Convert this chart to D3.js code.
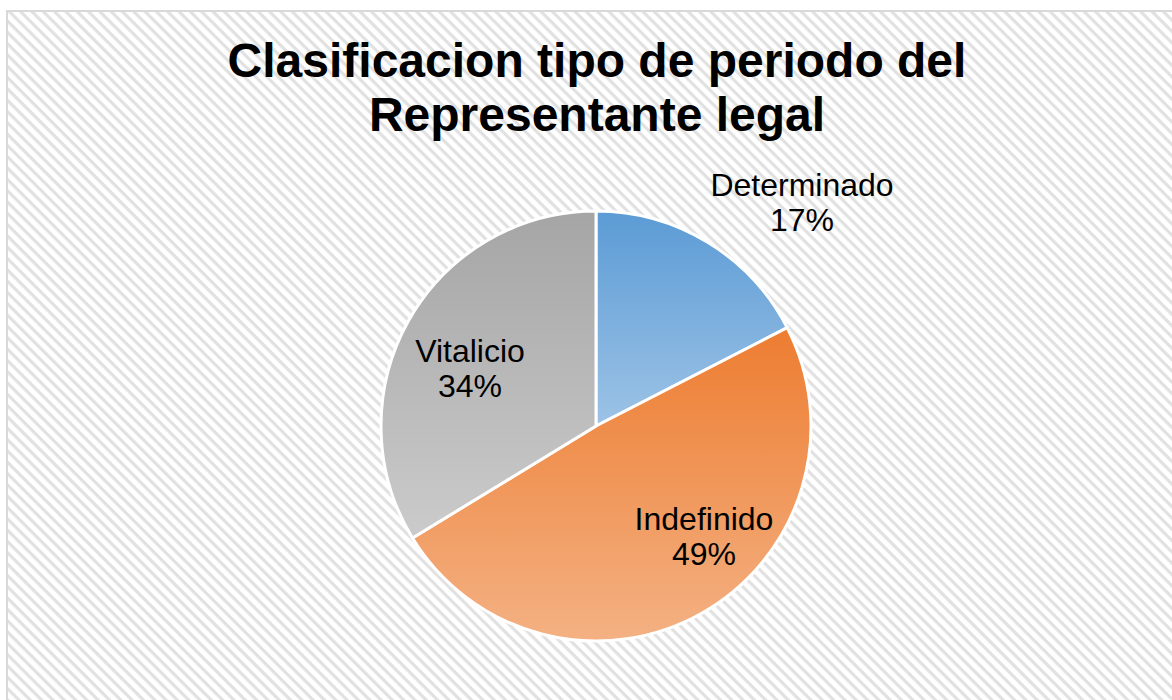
<!DOCTYPE html>
<html>
<head>
<meta charset="utf-8">
<script src="https://cdn.jsdelivr.net/npm/d3@7"></script>
<style>
  html, body { margin: 0; padding: 0; background: #fff; }
  svg { display: block; }
</style>
</head>
<body>
<div id="chart"></div>
<script>
// data
const categories = ['Determinado', 'Indefinido', 'Vitalicio'];
const values = [15, 42, 29];
const percentLabels = ['17%', '49%', '34%'];
const titleLines = ['Clasificacion tipo de periodo del', 'Representante legal'];
const topColors = ['#5b9bd5', '#ed7d31', '#a5a5a5'];
const bottomColors = ['#9dc3e6', '#f4b183', '#cbcbcb'];

const width = 1172;
const height = 700;
const cx = 596;
const cy = 426;
const radius = 215;

const svg = d3.select('#chart')
    .append('svg')
    .attr('width', width)
    .attr('height', height);

const defs = svg.append('defs');

// diagonal hatch background
const pattern = defs.append('pattern')
    .attr('id', 'hatch')
    .attr('patternUnits', 'userSpaceOnUse')
    .attr('width', 8)
    .attr('height', 8)
    .attr('patternTransform', 'rotate(45)');
pattern.append('rect')
    .attr('width', 8).attr('height', 8)
    .attr('fill', '#ffffff');
pattern.append('rect')
    .attr('width', 8).attr('height', 3.2)
    .attr('fill', '#e1e1e1');

// one vertical gradient per slice
categories.forEach((c, i) => {
    const g = defs.append('linearGradient')
        .attr('id', `grad${i}`)
        .attr('x1', 0).attr('y1', 0)
        .attr('x2', 0).attr('y2', 1);
    g.append('stop').attr('offset', '0%').attr('stop-color', topColors[i]);
    g.append('stop').attr('offset', '100%').attr('stop-color', bottomColors[i]);
});

svg.append('rect')
    .attr('x', 7)
    .attr('y', 11)
    .attr('width', width)
    .attr('height', height)
    .attr('fill', 'url(#hatch)')
    .attr('stroke', '#d9d9d9')
    .attr('stroke-width', 2);

// title
svg.append('text')
    .attr('x', 597)
    .attr('text-anchor', 'middle')
    .style('font-family', 'Liberation Sans, Arial, sans-serif')
    .style('font-weight', 'bold')
    .style('font-size', '48px')
    .attr('fill', '#000')
    .selectAll('tspan')
    .data(titleLines)
    .enter()
    .append('tspan')
    .attr('x', 597)
    .attr('y', (d, i) => 77 + i * 54)
    .text(d => d);

// pie
const pie = d3.pie().sort(null).value(d => d);
const arcs = pie(values);
const arc = d3.arc().innerRadius(0).outerRadius(radius);

const g = svg.append('g')
    .attr('transform', `translate(${cx}, ${cy})`);

g.selectAll('path')
    .data(arcs)
    .enter()
    .append('path')
    .attr('d', arc)
    .attr('fill', (d, i) => `url(#grad${i})`)
    .attr('stroke', '#ffffff')
    .attr('stroke-width', 3)
    .attr('stroke-linejoin', 'round');

// labels
const labelX = [802, 704, 470];
const labelY = [186, 520, 352];
const labels = svg.append('g')
    .style('font-family', 'Liberation Sans, Arial, sans-serif')
    .style('font-size', '32px')
    .attr('fill', '#000');

categories.forEach((c, i) => {
    const t = labels.append('text')
        .attr('text-anchor', 'middle');
    t.append('tspan')
        .attr('x', labelX[i])
        .attr('y', labelY[i] + 10)
        .text(c);
    t.append('tspan')
        .attr('x', labelX[i])
        .attr('y', labelY[i] + 45)
        .text(percentLabels[i]);
});
</script>
</body>
</html>
